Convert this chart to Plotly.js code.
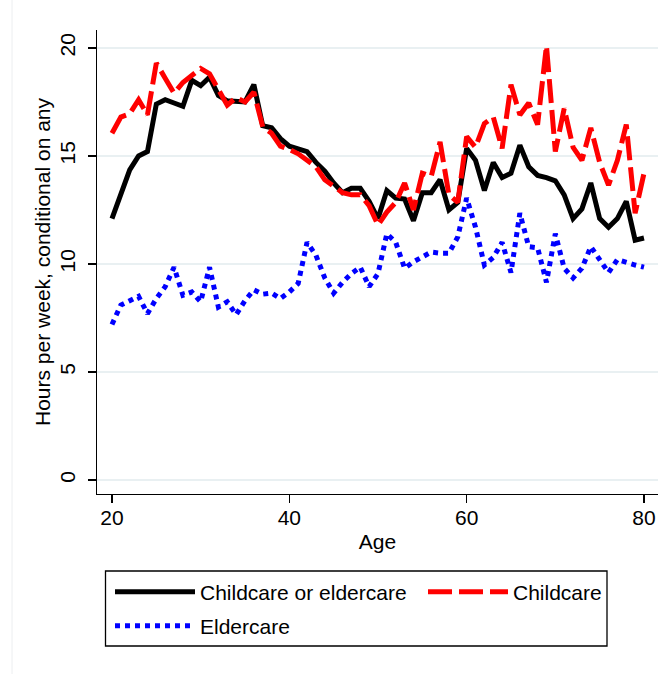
<!DOCTYPE html>
<html>
<head>
<meta charset="utf-8">
<script src="https://cdn.plot.ly/plotly-3.0.1.min.js"></script>
<style>
  html, body { margin: 0; padding: 0; background: #ffffff; }
  #chart { width: 658px; height: 674px; }
</style>
</head>
<body>
<div id="chart"></div>
<script>
const ages = [20,21,22,23,24,25,26,27,28,29,30,31,32,33,34,35,36,37,38,39,40,
              41,42,43,44,45,46,47,48,49,50,51,52,53,54,55,56,57,58,59,60,
              61,62,63,64,65,66,67,68,69,70,71,72,73,74,75,76,77,78,79,80];

const eitherCare = [12.1,13.2,14.35,15.0,15.2,17.4,17.6,17.45,17.3,18.5,18.25,
                    18.65,17.8,17.55,17.55,17.5,18.3,16.4,16.3,15.8,15.45,
                    15.35,15.2,14.7,14.3,13.75,13.3,13.5,13.5,12.9,12.1,
                    13.4,13.05,13.0,12.0,13.3,13.3,13.9,12.5,12.85,15.35,
                    14.8,13.4,14.7,14.0,14.2,15.5,14.5,14.1,14.0,13.85,
                    13.2,12.1,12.55,13.75,12.1,11.7,12.1,12.9,11.1,11.2];

const childcare = [16.05,16.8,16.95,17.6,16.9,19.3,18.6,17.9,18.4,18.75,19.05,
                   18.8,18.1,17.35,17.7,17.5,17.95,16.35,16.05,15.45,15.3,
                   15.1,14.8,14.5,13.9,13.6,13.3,13.2,13.2,12.7,11.8,
                   12.4,12.85,13.75,12.5,14.2,14.05,15.65,13.2,12.85,15.9,
                   15.4,16.5,16.8,15.35,18.3,16.9,17.45,16.45,20.1,15.2,
                   17.2,15.4,14.8,16.3,14.7,13.65,14.8,16.45,12.35,14.2];

const eldercare = [7.2,8.1,8.3,8.5,7.7,8.4,8.95,9.85,8.55,8.7,8.25,
                   9.85,8.0,8.25,7.65,8.3,8.8,8.6,8.65,8.4,8.7,
                   9.1,11.0,10.4,9.35,8.65,9.15,9.55,9.85,8.95,9.55,
                   11.4,11.0,9.8,10.1,10.3,10.55,10.5,10.5,11.25,13.05,
                   11.7,9.95,10.3,11.0,9.6,12.35,10.8,10.75,9.15,11.4,
                   9.8,9.35,9.8,10.8,10.2,9.6,10.2,10.05,9.95,9.85];

const seriesNames = ["Childcare or eldercare", "Childcare", "Eldercare"];
const xTicks = [20, 40, 60, 80];
const yTicks = [0, 5, 10, 15, 20];

const FONT = "Liberation Sans, Arial, Helvetica, sans-serif";

// plot area in pixels
const L = 97, T = 30, W = 561, H = 464;
const px = v => (v - L) / W;
const py = v => (T + H - v) / H;

const traces = [
  { x: ages, y: eitherCare, name: seriesNames[0], type: "scatter", mode: "lines",
    line: { color: "#000000", width: 5 }, legend: "legend" },
  { x: ages, y: childcare, name: seriesNames[1], type: "scatter", mode: "lines",
    line: { color: "#ff0000", width: 5, dash: "24px,7px" }, legend: "legend2" },
  { x: ages, y: eldercare, name: seriesNames[2], type: "scatter", mode: "lines",
    line: { color: "#0000ff", width: 5, dash: "5px,5px" }, legend: "legend3" }
];

const legendCommon = {
  orientation: "v", xanchor: "left", yanchor: "middle",
  bgcolor: "rgba(0,0,0,0)", borderwidth: 0,
  font: { family: FONT, size: 21, color: "#000000" },
  itemwidth: 80, itemclick: false, itemdoubleclick: false
};

const layout = {
  width: 658, height: 674,
  margin: { l: L, r: 658 - L - W, t: T, b: 674 - T - H, pad: 0 },
  paper_bgcolor: "#ffffff", plot_bgcolor: "#ffffff",
  font: { family: FONT, size: 21, color: "#000000" },
  showlegend: true,
  xaxis: {
    range: [18.31, 81.58], tickvals: xTicks, ticktext: xTicks.map(String),
    showgrid: false, zeroline: false,
    showline: true, linecolor: "#000000", linewidth: 1.3,
    ticks: "outside", ticklen: 8, tickwidth: 1.3, tickcolor: "#000000",
    ticklabeloverflow: "allow", ticklabelstandoff: -4,
    tickfont: { family: FONT, size: 21, color: "#000000" },
    title: { text: "Age", font: { family: FONT, size: 21, color: "#000000" }, standoff: 6 },
    automargin: false
  },
  yaxis: {
    range: [-0.65, 20.83], tickvals: yTicks, ticktext: yTicks.map(String),
    showgrid: true, gridcolor: "#e9f0f2", gridwidth: 1.6,
    zeroline: false,
    showline: true, linecolor: "#000000", linewidth: 1.3,
    ticks: "outside", ticklen: 8, tickwidth: 1.3, tickcolor: "#000000",
    tickangle: -90, ticklabelstandoff: 4,
    tickfont: { family: FONT, size: 21, color: "#000000" },
    title: { text: "Hours per week, conditional on any",
             font: { family: FONT, size: 21, color: "#000000" }, standoff: 0 },
    automargin: false
  },
  legend: Object.assign({}, legendCommon, { x: px(110), y: py(592) }),
  legend2: Object.assign({}, legendCommon, { x: px(423), y: py(592) }),
  legend3: Object.assign({}, legendCommon, { x: px(110), y: py(626) }),
  shapes: [
    { type: "rect", xref: "paper", yref: "paper",
      x0: px(105.5), x1: px(607), y0: py(571), y1: py(646),
      line: { color: "#000000", width: 1.3 }, fillcolor: "rgba(0,0,0,0)", layer: "above" },
    { type: "line", xref: "paper", yref: "paper",
      x0: px(12), x1: px(12), y0: py(0), y1: py(674),
      line: { color: "#eceef0", width: 1 } }
  ]
};

Plotly.newPlot("chart", traces, layout, { displayModeBar: false, staticPlot: true });
</script>
</body>
</html>
